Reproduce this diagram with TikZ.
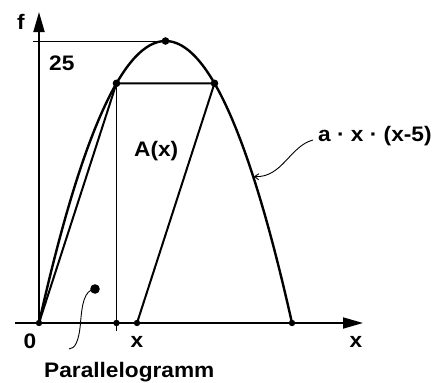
\documentclass[tikz,border=0pt]{standalone}
\usepackage{fontspec}
\setmainfont[FakeStretch=1.08]{Liberation Sans}
\usetikzlibrary{arrows.meta}
\begin{document}
\begin{tikzpicture}[x=1pt,y=-1pt,
  lbl/.style={font=\fontsize{21}{25}\selectfont\bfseries, inner sep=0pt},
  axis/.style={line width=1.8pt, -{Triangle[length=20pt,width=11pt]}},
  thick curve/.style={line width=2.4pt},
  side/.style={line width=2pt},
  thinline/.style={line width=1pt},
  leader/.style={line width=0.9pt},
  pt/.style={fill=black}]
\useasboundingbox (0,0) rectangle (432,383);
% coordinates
\coordinate (O) at (39,323);
\coordinate (ytop) at (39,12);
\coordinate (xl) at (15,323);
\coordinate (xr) at (363,323);
\coordinate (V) at (165.5,41);
\coordinate (Z) at (292,323);
\coordinate (P) at (116.5,83.3);
\coordinate (Q) at (214.5,83.3);
\coordinate (X) at (137,323);
\coordinate (Pb) at (116.5,323);
\coordinate (Pt) at (116.5,331);
\coordinate (h0) at (33,41);
\coordinate (fa) at (313,140);
\coordinate (fb) at (254,176.5);
\coordinate (pd) at (95,289);
\coordinate (pe) at (69,349);
% axes
\draw[axis] (xl) -- (xr);
\draw[axis] (O) -- (ytop);
% thin lines
\draw[thinline] (h0) -- (V);
\draw[thinline] (P) -- (Pt);
% parabola (exact, quadratic as cubic)
\draw[thick curve] (O) .. controls (123.33,-53) and (207.67,-53) .. (Z);
% parallelogram
\draw[side] (O) -- (P) -- (Q) -- (X);
% dots
\foreach \p in {V,P,Q} \fill[pt] (\p) circle (3.8pt);
\foreach \p in {O,Pb,X,Z} \fill[pt] (\p) circle (3.2pt);
\fill[pt] (pd) circle (4.8pt);
% leaders
\draw[leader, -{Straight Barb[length=4pt,width=6pt]}] (fa) .. controls (290,146) and (282,178) .. (fb);
\draw[leader] (pd) .. controls (84,290) and (82,305) .. (80.5,323) .. controls (79,341) and (75,349) .. (pe);
% labels
\node[lbl, anchor=base] (lf) at (21,29) {f};
\node[lbl, anchor=base west] (l25) at (49,70) {25};
\node[lbl, anchor=base west] (lA) at (134,156) {A(x)};
\node[lbl, anchor=base west] (lfun) at (318,141) {a · x · (x-5)};
\node[lbl, anchor=base] (l0) at (30,348) {0};
\node[lbl, anchor=base] (lx1) at (137,347) {x};
\node[lbl, anchor=base] (lx2) at (356,347) {x};
\node[lbl, anchor=base west] (lpar) at (44,377) {Parallelogramm};
\end{tikzpicture}
\end{document}
